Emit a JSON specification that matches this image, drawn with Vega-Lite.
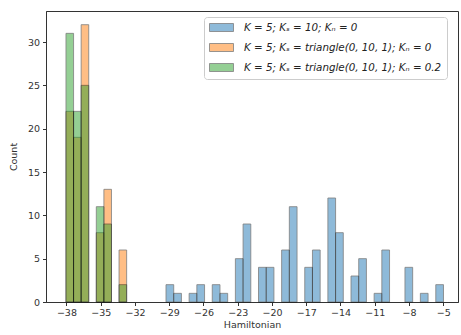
{
  "$schema": "https://vega.github.io/schema/vega-lite/v6.json",
  "width": 412,
  "height": 291,
  "autosize": {"type": "none"},
  "padding": {"left": 46, "top": 11, "right": 3, "bottom": 33},
  "background": "white",
  "config": {
    "font": "DejaVu Sans",
    "view": {"stroke": "#333", "strokeWidth": 1}
  },
  "data": {
    "values": [
      {"series": "K = 5; Kₛ = 10; Kₙ = 0", "start": -29.28, "end": -28.605, "count": 2},
      {"series": "K = 5; Kₛ = 10; Kₙ = 0", "start": -28.605, "end": -27.93, "count": 1},
      {"series": "K = 5; Kₛ = 10; Kₙ = 0", "start": -27.255, "end": -26.58, "count": 1},
      {"series": "K = 5; Kₛ = 10; Kₙ = 0", "start": -26.58, "end": -25.905, "count": 2},
      {"series": "K = 5; Kₛ = 10; Kₙ = 0", "start": -25.23, "end": -24.555, "count": 2},
      {"series": "K = 5; Kₛ = 10; Kₙ = 0", "start": -24.555, "end": -23.88, "count": 1},
      {"series": "K = 5; Kₛ = 10; Kₙ = 0", "start": -23.205, "end": -22.53, "count": 5},
      {"series": "K = 5; Kₛ = 10; Kₙ = 0", "start": -22.53, "end": -21.855, "count": 9},
      {"series": "K = 5; Kₛ = 10; Kₙ = 0", "start": -21.18, "end": -20.505, "count": 4},
      {"series": "K = 5; Kₛ = 10; Kₙ = 0", "start": -20.505, "end": -19.83, "count": 4},
      {"series": "K = 5; Kₛ = 10; Kₙ = 0", "start": -19.155, "end": -18.48, "count": 6},
      {"series": "K = 5; Kₛ = 10; Kₙ = 0", "start": -18.48, "end": -17.805, "count": 11},
      {"series": "K = 5; Kₛ = 10; Kₙ = 0", "start": -17.13, "end": -16.455, "count": 4},
      {"series": "K = 5; Kₛ = 10; Kₙ = 0", "start": -16.455, "end": -15.78, "count": 6},
      {"series": "K = 5; Kₛ = 10; Kₙ = 0", "start": -15.105, "end": -14.43, "count": 12},
      {"series": "K = 5; Kₛ = 10; Kₙ = 0", "start": -14.43, "end": -13.755, "count": 8},
      {"series": "K = 5; Kₛ = 10; Kₙ = 0", "start": -13.08, "end": -12.405, "count": 3},
      {"series": "K = 5; Kₛ = 10; Kₙ = 0", "start": -12.405, "end": -11.73, "count": 5},
      {"series": "K = 5; Kₛ = 10; Kₙ = 0", "start": -11.055, "end": -10.38, "count": 1},
      {"series": "K = 5; Kₛ = 10; Kₙ = 0", "start": -10.38, "end": -9.705, "count": 6},
      {"series": "K = 5; Kₛ = 10; Kₙ = 0", "start": -8.355, "end": -7.68, "count": 4},
      {"series": "K = 5; Kₛ = 10; Kₙ = 0", "start": -7.005, "end": -6.33, "count": 1},
      {"series": "K = 5; Kₛ = 10; Kₙ = 0", "start": -5.655, "end": -4.98, "count": 2},
      {"series": "K = 5; Kₛ = triangle(0, 10, 1); Kₙ = 0", "start": -38.04, "end": -37.376, "count": 22},
      {"series": "K = 5; Kₛ = triangle(0, 10, 1); Kₙ = 0", "start": -37.376, "end": -36.712, "count": 19},
      {"series": "K = 5; Kₛ = triangle(0, 10, 1); Kₙ = 0", "start": -36.712, "end": -36.048, "count": 32},
      {"series": "K = 5; Kₛ = triangle(0, 10, 1); Kₙ = 0", "start": -35.384, "end": -34.72, "count": 8},
      {"series": "K = 5; Kₛ = triangle(0, 10, 1); Kₙ = 0", "start": -34.72, "end": -34.056, "count": 13},
      {"series": "K = 5; Kₛ = triangle(0, 10, 1); Kₙ = 0", "start": -33.392, "end": -32.728, "count": 6},
      {"series": "K = 5; Kₛ = triangle(0, 10, 1); Kₙ = 0.2", "start": -38.04, "end": -37.376, "count": 31},
      {"series": "K = 5; Kₛ = triangle(0, 10, 1); Kₙ = 0.2", "start": -37.376, "end": -36.712, "count": 22},
      {"series": "K = 5; Kₛ = triangle(0, 10, 1); Kₙ = 0.2", "start": -36.712, "end": -36.048, "count": 25},
      {"series": "K = 5; Kₛ = triangle(0, 10, 1); Kₙ = 0.2", "start": -35.384, "end": -34.72, "count": 11},
      {"series": "K = 5; Kₛ = triangle(0, 10, 1); Kₙ = 0.2", "start": -34.72, "end": -34.056, "count": 9},
      {"series": "K = 5; Kₛ = triangle(0, 10, 1); Kₙ = 0.2", "start": -33.392, "end": -32.728, "count": 2}
    ]
  },
  "mark": {"type": "bar", "opacity": 0.5, "stroke": "#000", "strokeOpacity": 0.8, "strokeWidth": 1},
  "encoding": {
    "x": {
      "field": "start", "type": "quantitative",
      "scale": {"domain": [-39.79, -3.71], "nice": false, "zero": false},
      "axis": {
        "title": "Hamiltonian", "values": [-38, -35, -32, -29, -26, -23, -20, -17, -14, -11, -8, -5],
        "format": "d", "grid": false, "tickSize": 3.5, "labelPadding": 2,
        "labelFontSize": 9.5, "titleFontSize": 9.5, "titleFontWeight": "normal",
        "labelColor": "#333", "titleColor": "#333", "domainColor": "#333", "tickColor": "#333",
        "titlePadding": 2, "labelFlush": false
      }
    },
    "x2": {"field": "end"},
    "y": {
      "field": "count", "type": "quantitative",
      "scale": {"domain": [0, 33.58], "nice": false},
      "axis": {
        "title": "Count", "values": [0, 5, 10, 15, 20, 25, 30], "grid": false,
        "tickSize": 3.5, "labelPadding": 3, "labelFontSize": 9.5, "titleFontSize": 9.5,
        "titleFontWeight": "normal", "labelColor": "#333", "titleColor": "#333",
        "domainColor": "#333", "tickColor": "#333", "titlePadding": 9
      }
    },
    "y2": {"datum": 0},
    "color": {
      "field": "series", "type": "nominal",
      "scale": {
        "domain": ["K = 5; Kₛ = 10; Kₙ = 0", "K = 5; Kₛ = triangle(0, 10, 1); Kₙ = 0", "K = 5; Kₛ = triangle(0, 10, 1); Kₙ = 0.2"],
        "range": ["#1f77b4", "#ff7f0e", "#2ca02c"]
      },
      "legend": {
        "title": null, "orient": "none", "legendX": 158, "legendY": 6,
        "symbolType": "M-1,-0.8H3.8V0.8H-1Z", "symbolSize": 100,
        "symbolStrokeColor": "#000", "symbolStrokeWidth": 0.8,
        "labelOffset": 24, "labelFontSize": 10.3, "labelFontStyle": "italic", "labelColor": "#222",
        "rowPadding": 7, "padding": 5, "fillColor": "white", "strokeColor": "#ccc",
        "cornerRadius": 3, "labelLimit": 400,
        "encode": {
          "symbols": {
            "update": {
              "opacity": {"value": 1},
              "fillOpacity": {"value": 0.5},
              "strokeOpacity": {"value": 0.4}
            }
          }
        }
      }
    }
  }
}
